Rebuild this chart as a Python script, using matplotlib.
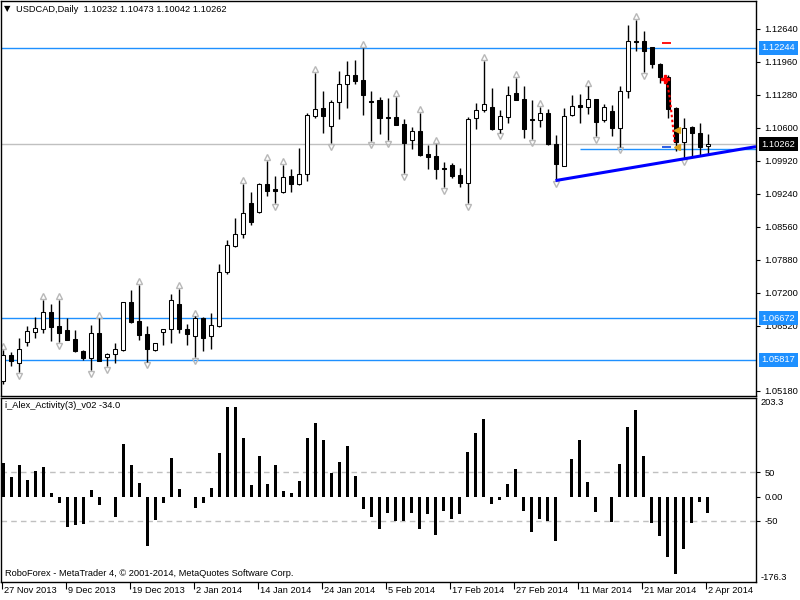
import numpy as np
import matplotlib
matplotlib.use("Agg")
import matplotlib.pyplot as plt
from matplotlib import transforms

plt.rcParams['font.family'] = ['Liberation Sans', 'DejaVu Sans']
FS = 6.7

# USDCAD daily candles, 27 Nov 2013 .. 2 Apr 2014
opens = [1.0537, 1.0592, 1.0576, 1.0618, 1.0640, 1.0646, 1.0680, 1.0652, 1.0643, 1.0625,
         1.0600, 1.0586, 1.0637, 1.0588, 1.0593, 1.0602, 1.0700, 1.0662, 1.0635, 1.0602,
         1.0639, 1.0645, 1.0696, 1.0645, 1.0630, 1.0667, 1.0630, 1.0652, 1.0762, 1.0817,
         1.0840, 1.0904, 1.0886, 1.0944, 1.0934, 1.0928, 1.0961, 1.0943, 1.0965, 1.1085,
         1.1101, 1.1063, 1.1112, 1.1149, 1.1168, 1.1158, 1.1115, 1.1117, 1.1082, 1.1082,
         1.1068, 1.1034, 1.1053, 1.1006, 1.1002, 1.0976, 1.0984, 1.0963, 1.0945, 1.1080,
         1.1096, 1.1102, 1.1057, 1.1083, 1.1131, 1.1119, 1.1077, 1.1075, 1.1090, 1.1026,
         1.0982, 1.1086, 1.1106, 1.1103, 1.1119, 1.1076, 1.1094, 1.1059, 1.1136, 1.1239,
         1.1239, 1.1226, 1.1191, 1.1165, 1.1100, 1.1031, 1.1062, 1.1049, 1.10232]
highs = [1.0602, 1.0597, 1.0626, 1.0652, 1.0670, 1.0705, 1.0696, 1.0705, 1.0667, 1.0643,
         1.0602, 1.0654, 1.0667, 1.0595, 1.0616, 1.0701, 1.0726, 1.0736, 1.0652, 1.0617,
         1.0646, 1.0717, 1.0727, 1.0656, 1.0671, 1.0670, 1.0679, 1.0779, 1.0829, 1.0873,
         1.0944, 1.0928, 1.0946, 1.0991, 1.0961, 1.0984, 1.0974, 1.1018, 1.1090, 1.1173,
         1.1136, 1.1118, 1.1176, 1.1197, 1.1200, 1.1224, 1.1135, 1.1123, 1.1121, 1.1123,
         1.1078, 1.1061, 1.1090, 1.1024, 1.1027, 1.0989, 1.0987, 1.0976, 1.1082, 1.1111,
         1.1197, 1.1142, 1.1097, 1.1145, 1.1162, 1.1146, 1.1117, 1.1103, 1.1098, 1.1045,
         1.1100, 1.1127, 1.1130, 1.1145, 1.1119, 1.1109, 1.1107, 1.1145, 1.1272, 1.1282,
         1.1260, 1.1226, 1.1193, 1.1168, 1.1103, 1.1079, 1.1064, 1.1070, 1.10473]
lows = [1.0532, 1.0568, 1.0557, 1.0611, 1.0627, 1.0637, 1.0621, 1.0619, 1.0623, 1.0598,
        1.0582, 1.0561, 1.0579, 1.0568, 1.0575, 1.0599, 1.0658, 1.0623, 1.0578, 1.0600,
        1.0612, 1.0617, 1.0637, 1.0612, 1.0587, 1.0599, 1.0604, 1.0649, 1.0758, 1.0815,
        1.0833, 1.0860, 1.0884, 1.0919, 1.0905, 1.0925, 1.0927, 1.0942, 1.0951, 1.1080,
        1.1050, 1.1029, 1.1077, 1.1101, 1.1149, 1.1086, 1.1032, 1.1046, 1.1035, 1.1065,
        1.0967, 1.1017, 1.1001, 1.0974, 1.0955, 1.0937, 1.0956, 1.0938, 1.0905, 1.1058,
        1.1092, 1.1056, 1.1050, 1.1070, 1.1116, 1.1038, 1.1037, 1.1062, 1.1025, 1.0952,
        1.0980, 1.1084, 1.1069, 1.1088, 1.1042, 1.1072, 1.1043, 1.1021, 1.1121, 1.1217,
        1.1175, 1.1182, 1.1153, 1.1079, 1.1011, 1.0997, 1.1000, 1.1004, 1.10042]
closes = [1.0592, 1.0580, 1.0604, 1.0641, 1.0647, 1.0680, 1.0650, 1.0637, 1.0623, 1.0599,
          1.0586, 1.0637, 1.0580, 1.0594, 1.0604, 1.0700, 1.0660, 1.0632, 1.0604, 1.0616,
          1.0645, 1.0705, 1.0645, 1.0634, 1.0667, 1.0627, 1.0653, 1.0762, 1.0818, 1.0840,
          1.0884, 1.0866, 1.0944, 1.0930, 1.0929, 1.0958, 1.0943, 1.0965, 1.1086, 1.1099,
          1.1085, 1.1112, 1.1149, 1.1168, 1.1157, 1.1127, 1.1112, 1.1079, 1.1079, 1.1066,
          1.1029, 1.1053, 1.1004, 1.1000, 1.0974, 1.0974, 1.0961, 1.0945, 1.1078, 1.1096,
          1.1109, 1.1058, 1.1084, 1.1127, 1.1117, 1.1057, 1.1075, 1.1090, 1.1026, 1.0985,
          1.1085, 1.1105, 1.1103, 1.1119, 1.1072, 1.1103, 1.1059, 1.1136, 1.1239, 1.1237,
          1.1219, 1.1191, 1.1165, 1.1099, 1.1031, 1.1059, 1.1049, 1.1021, 1.10262]

# i_Alex_Activity(3)_v02 histogram
activity = [70.1, 41.3, 65.3, 34.4, 53.0, 61.9, 7.6, -12.4, -63.3, -57.8,
            -55.7, 13.8, -16.5, -1.5, -41.3, 108.7, 65.3, 28.2, -101.1, -47.5,
            -12.4, 79.8, 15.8, 0.0, -24.1, -12.4, 17.9, 90.8, 185.7, 185.7,
            121.7, 24.1, 83.9, 26.1, 65.3, 11.7, 6.8, 32.3, 121.7, 151.9,
            117.6, 49.5, 71.5, 104.5, 43.3, -24.8, -41.3, -66.0, -33.0, -49.5,
            -49.5, -33.0, -66.0, -35.0, -78.4, -28.8, -45.3, -35.0, 92.1, 131.4,
            160.2, -14.5, -6.2, 26.1, 57.1, -28.8, -72.2, -45.3, -49.5, -90.8,
            -1.3, 78.4, 116.9, 30.3, -31.0, -1.3, -53.0, 67.4, 143.7, 178.7,
            83.9, -53.6, -80.4, -123.8, -158.9, -107.3, -53.6, -10.3, -34.0]

date_labels = ['27 Nov 2013', '9 Dec 2013', '19 Dec 2013', '2 Jan 2014', '14 Jan 2014',
               '24 Jan 2014', '5 Feb 2014', '17 Feb 2014', '27 Feb 2014', '11 Mar 2014',
               '21 Mar 2014', '2 Apr 2014']
price_ticks = [1.12640, 1.11960, 1.11280, 1.10600, 1.09920, 1.09240,
               1.08560, 1.07880, 1.07200, 1.06520, 1.05180]
levels = [1.12244, 1.06672, 1.05817]
bid = 1.10262
fractal_up = [0, 5, 7, 12, 17, 22, 24, 30, 33, 35, 39, 45, 49, 52, 54, 60, 64, 67, 73, 79]
fractal_down = [2, 7, 11, 13, 18, 24, 34, 41, 46, 48, 50, 55, 58, 62, 66, 69, 74, 77, 80, 85]
trend_x = [69, 88]
trend_y = [1.0951, 1.1004]
support_level = 1.10155

W, H = 800, 600
fig = plt.figure(figsize=(8, 6), dpi=100)


def rect(x0, y0, x1, y1):
    return [x0 / W, 1 - y1 / H, (x1 - x0) / W, (y1 - y0) / H]


ax = fig.add_axes(rect(1, 1, 756, 396))
ax2 = fig.add_axes(rect(1, 398, 756, 582))
xlim = (-0.31, 94.06)

n = len(opens)
x = np.arange(n)
o = np.array(opens)
c = np.array(closes)

# candles
ax.vlines(x, lows, highs, color='black', lw=1, zorder=3)
bottoms = np.minimum(o, c)
heights = np.maximum(np.abs(c - o), 0.0001)
colors = ['white' if cc >= oo else 'black' for oo, cc in zip(o, c)]
ax.bar(x, heights, bottom=bottoms, width=0.5, color=colors, edgecolor='black',
       linewidth=0.75, zorder=4)

# fractals
ax.plot(fractal_up, [highs[i] + 0.0008 for i in fractal_up], ls='none', marker='^',
        ms=4.5, mfc='none', mec='#b8b8b8', mew=1, zorder=2)
ax.plot(fractal_down, [lows[i] - 0.0008 for i in fractal_down], ls='none', marker='v',
        ms=4.5, mfc='none', mec='#b8b8b8', mew=1, zorder=2)

# horizontal levels
for lv in levels:
    ax.axhline(lv, color='#1E90FF', lw=1, zorder=1)
ax.axhline(bid, color='#C0C0C0', lw=1, zorder=1)
ax.hlines(support_level, 72, xlim[1], color='#1E90FF', lw=1, zorder=1)

# trend line (ray to the right)
slope = (trend_y[1] - trend_y[0]) / (trend_x[1] - trend_x[0])
ax.plot([trend_x[0], xlim[1]], [trend_y[0], trend_y[0] + slope * (xlim[1] - trend_x[0])],
        color='#0000FF', lw=2.2, zorder=5, solid_capstyle='butt')

# signal marks
ax.plot([82.9, 83.3, 83.9], [1.1158, 1.1120, 1.1028], color='red', lw=1.5,
        ls=(0, (1.2, 1.2)), zorder=6)
ax.plot(82.7, 1.1160, marker='P', color='red', ms=6, zorder=7)
ax.hlines(1.1234, 82.3, 83.4, color='red', lw=1.3, zorder=6)
ax.hlines(1.1020, 82.3, 83.4, color='#1E50E0', lw=1.3, zorder=6)
ax.plot([84.2, 84.2], [1.1055, 1.1021], ls='none', marker='<', color='#DAA520', ms=5, zorder=7)

ax.set_xlim(*xlim)
ax.set_ylim(1.05071, 1.13210)
ax.set_xticks([])
ax.yaxis.tick_right()
ax.set_yticks(price_ticks)
ax.set_yticklabels([f'{p:.5f}' for p in price_ticks])
ax.tick_params(axis='y', direction='out', length=3, width=0.8, pad=3, labelsize=FS)

tr = transforms.blended_transform_factory(ax.transAxes, ax.transData)
for lv in levels:
    ax.text(1.0075, lv, f'{lv:.5f}', transform=tr, color='white', fontsize=FS, va='center',
            ha='left', clip_on=False, zorder=10,
            bbox=dict(boxstyle='square,pad=0.25', fc='#1E90FF', ec='none'))
ax.text(1.0075, bid, f'{bid:.5f}', transform=tr, color='white', fontsize=FS, va='center',
        ha='left', clip_on=False, zorder=10,
        bbox=dict(boxstyle='square,pad=0.25', fc='black', ec='none'))

# indicator
ax2.bar(x, activity, width=0.375, color='black', zorder=3)
ax2.axhline(50, color='#C0C0C0', lw=1, ls=(0, (4, 3)), zorder=1)
ax2.axhline(-50, color='#C0C0C0', lw=1, ls=(0, (4, 3)), zorder=1)
ax2.set_xlim(*xlim)
ax2.set_ylim(-176.3, 203.3)
ax2.yaxis.tick_right()
ax2.set_yticks([50, 0, -50])
ax2.set_yticklabels(['50', '0.00', '-50'])
ax2.tick_params(axis='y', direction='out', length=3, width=0.8, pad=3, labelsize=FS)
tr2 = transforms.blended_transform_factory(ax2.transAxes, ax2.transData)
ax2.text(1.006, 203.3, '203.3', transform=tr2, fontsize=FS, va='top', ha='left', clip_on=False)
ax2.text(1.006, -176.3, '-176.3', transform=tr2, fontsize=FS, va='bottom', ha='left', clip_on=False)

tick_idx = list(range(0, n, 8))
ax2.set_xticks([i - 0.15 for i in tick_idx])
ax2.set_xticklabels([])
ax2.tick_params(axis='x', direction='out', length=5, width=0.8)
trx = transforms.blended_transform_factory(ax2.transData, ax2.transAxes)
for i, lab in zip(tick_idx, date_labels):
    ax2.text(i + 0.05, -0.02, lab, transform=trx, fontsize=FS, va='top', ha='left', clip_on=False)

for a in (ax, ax2):
    for s in a.spines.values():
        s.set_linewidth(1)

# texts
fig.text(4 / W, 1 - 9 / H, '\u25bc', fontsize=6, va='center', ha='left', family='DejaVu Sans')
fig.text(16 / W, 1 - 9 / H, 'USDCAD,Daily  1.10232 1.10473 1.10042 1.10262', fontsize=FS,
         va='center', ha='left')
fig.text(5 / W, 1 - 405 / H, 'i_Alex_Activity(3)_v02 -34.0', fontsize=FS, va='center', ha='left')
fig.text(5 / W, 1 - 574 / H, 'RoboForex - MetaTrader 4, \u00a9 2001-2014, MetaQuotes Software Corp.',
         fontsize=FS, va='center', ha='left')

fig.savefig('out.png', dpi=100)
